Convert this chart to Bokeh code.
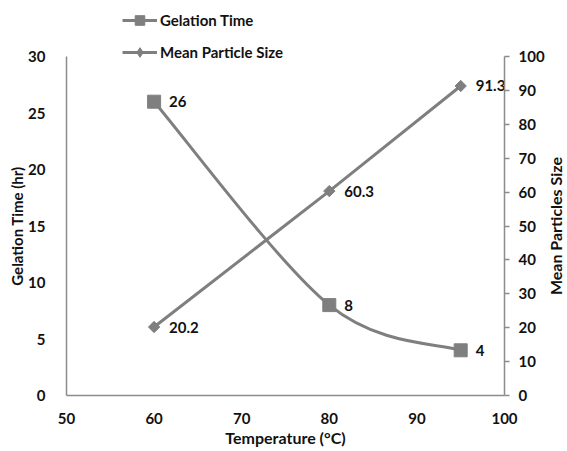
from bokeh.plotting import figure
from bokeh.models import (Range1d, LinearAxis, SingleIntervalTicker, Legend, LegendItem, Label)
from bokeh.core.properties import value
from bokeh.embed import file_html
from bokeh.resources import INLINE
import numpy as np

# ---- data ----
temperature = [60, 80, 95]
gelation_time = [26, 8, 4]
particle_size = [20.2, 60.3, 91.3]
gelation_labels = ["26", "8", "4"]
size_labels = ["20.2", "60.3", "91.3"]
series_names = ["Gelation Time", "Mean Particle Size"]
x_title = "Temperature (°C)"
left_title = "Gelation Time (hr)"
right_title = "Mean Particles Size"
X_MIN, X_MAX = 50, 100
LEFT_MAX, RIGHT_MAX = 30, 100

FONT = "Lato"
GRAY = "#7f7f7f"
AXIS = "#8c8c8c"
TXT = "#111111"

# ---- layout geometry (pixels): frame covers the whole canvas, axes sit at fixed spots ----
W, H = 567, 451
AX_L, AX_R, AX_T, AX_B = 66, 504, 56, 395
kx = (AX_R - AX_L) / (X_MAX - X_MIN)
kyl = (AX_B - AX_T) / LEFT_MAX
kyr = (AX_B - AX_T) / RIGHT_MAX

p = figure(width=W, height=H, output_backend="svg", toolbar_location=None,
           x_range=Range1d(X_MIN - AX_L / kx, X_MAX + (W - AX_R) / kx),
           y_range=Range1d(-(H - AX_B) / kyl, LEFT_MAX + AX_T / kyl),
           min_border=0)
p.extra_y_ranges = {"right": Range1d(-(H - AX_B) / kyr, RIGHT_MAX + AX_T / kyr)}
p.outline_line_color = None
p.xgrid.visible = False
p.ygrid.visible = False
p.background_fill_color = "white"
p.border_fill_color = "white"


def style_axis(ax):
    ax.axis_line_color = AXIS
    ax.axis_line_width = 1.5
    ax.major_tick_line_color = AXIS
    ax.major_tick_line_width = 1.5
    ax.minor_tick_line_color = None
    ax.major_label_text_font = FONT
    ax.major_label_text_font_style = "bold"
    ax.major_label_text_font_size = "15px"
    ax.major_label_text_color = TXT


# x axis
xa = p.xaxis[0]
xa.ticker = SingleIntervalTicker(interval=10)
xa.bounds = (X_MIN, X_MAX)
xa.fixed_location = 0
style_axis(xa)
xa.major_tick_out = 0
xa.major_tick_in = 0
xa.major_label_standoff = 13

# left axis
ya = p.yaxis[0]
ya.ticker = SingleIntervalTicker(interval=5)
ya.bounds = (0, LEFT_MAX)
ya.fixed_location = X_MIN
style_axis(ya)
ya.major_tick_out = 0
ya.major_tick_in = 0
ya.major_label_standoff = 17

# right axis
ra = LinearAxis(y_range_name="right", ticker=SingleIntervalTicker(interval=10),
                bounds=(0, RIGHT_MAX), fixed_location=X_MAX)
style_axis(ra)
ra.major_tick_out = 5
ra.major_tick_in = 0
ra.major_label_standoff = 9
p.add_layout(ra, "right")

# ---- axis titles ----
def title_label(text, x, y, size, angle=0.0):
    return Label(x=x, y=y, x_units="screen", y_units="screen", text=text, angle=angle,
                 text_align="center", text_baseline="middle", text_font=FONT,
                 text_font_style="bold", text_font_size=size, text_color=TXT)

p.add_layout(title_label(x_title, (AX_L + AX_R) / 2, H - 437, "16px"))
p.add_layout(title_label(left_title, 16, H - (AX_T + AX_B) / 2, "15px", np.pi / 2))
p.add_layout(title_label(right_title, 555, H - (AX_T + AX_B) / 2, "16px", np.pi / 2))

# ---- gelation time: smoothed curve (bezier through the data points) ----
xs = np.array(temperature, dtype=float)
ys = np.array(gelation_time, dtype=float)
n = len(xs)
xp = np.concatenate([[xs[0]], xs, [xs[-1]]])
yp = np.concatenate([[ys[0]], ys, [ys[-1]]])
cx0 = xs[:-1] + (xp[2:n + 1] - xp[0:n - 1]) / 6.0
cy0 = ys[:-1] + (yp[2:n + 1] - yp[0:n - 1]) / 6.0
cx1 = xs[1:] - (xp[3:n + 2] - xp[1:n]) / 6.0
cy1 = ys[1:] - (yp[3:n + 2] - yp[1:n]) / 6.0
bez = p.bezier(x0=xs[:-1], y0=ys[:-1], x1=xs[1:], y1=ys[1:],
               cx0=cx0, cy0=cy0, cx1=cx1, cy1=cy1,
               line_color=GRAY, line_width=3)
gel_pts = p.scatter(x=temperature, y=gelation_time, marker="square", size=13,
                    fill_color=GRAY, line_color=GRAY)

# ---- mean particle size ----
size_line = p.line(x=temperature, y=particle_size, y_range_name="right",
                   line_color=GRAY, line_width=3)
size_leg = p.scatter(x=temperature, y=particle_size, y_range_name="right",
                     marker="diamond", size=10, fill_color=GRAY, line_color=GRAY)
size_pts = p.scatter(x=temperature, y=particle_size, y_range_name="right",
                     marker="square", angle=np.pi / 4, size=8,
                     fill_color=GRAY, line_color=GRAY)

# ---- data labels ----
p.text(x=temperature, y=gelation_time, text=gelation_labels, x_offset=15,
       text_align="left", text_baseline="middle", text_font=value(FONT),
       text_font_style="bold", text_font_size="15px", text_color=TXT)
p.text(x=temperature, y=particle_size, text=size_labels, x_offset=15,
       y_range_name="right",
       text_align="left", text_baseline="middle", text_font=value(FONT),
       text_font_style="bold", text_font_size="15px", text_color=TXT)

# ---- legend ----
legend = Legend(items=[
    LegendItem(label=series_names[0], renderers=[bez, gel_pts]),
    LegendItem(label=series_names[1], renderers=[size_line, size_leg]),
], location=(122, H - 64), orientation="vertical")
legend.border_line_color = None
legend.background_fill_alpha = 0
legend.padding = 0
legend.margin = 0
legend.spacing = 8
legend.glyph_width = 35
legend.glyph_height = 24
legend.label_height = 24
legend.label_standoff = 3
legend.label_text_font = FONT
legend.label_text_font_style = "bold"
legend.label_text_font_size = "15px"
legend.label_text_color = TXT
p.add_layout(legend, "center")

open("out.html", "w").write(file_html(p, INLINE))
